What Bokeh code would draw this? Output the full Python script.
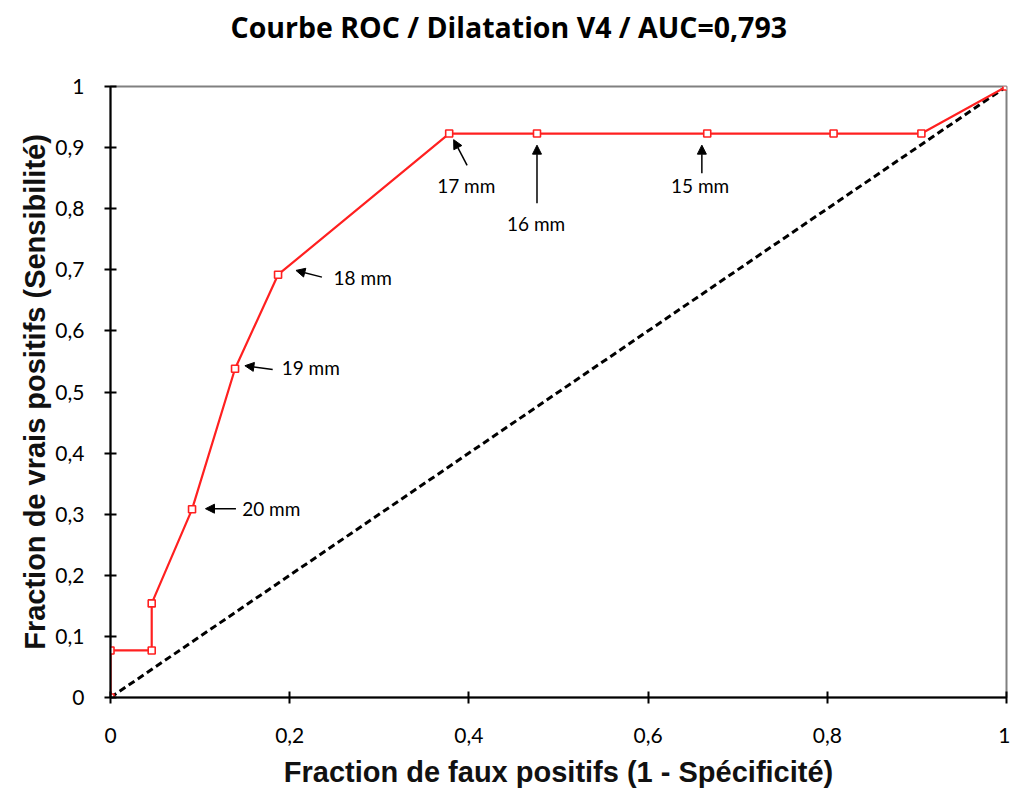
from bokeh.plotting import figure
from bokeh.models import Arrow, NormalHead, ColumnDataSource, FixedTicker, Title
from bokeh.core.properties import value
from bokeh.embed import file_html
from bokeh.resources import INLINE

# ROC curve points (1 - specificity, sensitivity)
fpr = [0.0, 0.0, 0.046, 0.046, 0.091, 0.139, 0.187, 0.378, 0.476, 0.666, 0.807, 0.905, 1.0]
tpr = [0.0, 0.077, 0.077, 0.154, 0.308, 0.538, 0.692, 0.923, 0.923, 0.923, 0.923, 0.923, 1.0]

# chance diagonal
diag_x = [0.0, 1.0]
diag_y = [0.0, 1.0]

# threshold annotations
lbl_left_text = ["18 mm", "19 mm", "20 mm"]
lbl_left_x = [0.249, 0.191, 0.147]
lbl_left_y = [0.688, 0.540, 0.309]
lbl_center_text = ["17 mm", "16 mm", "15 mm"]
lbl_center_x = [0.397, 0.475, 0.658]
lbl_center_y = [0.838, 0.776, 0.838]
arr_x0 = [0.236, 0.181, 0.140, 0.398, 0.476, 0.660]
arr_y0 = [0.688, 0.537, 0.309, 0.871, 0.809, 0.858]
arr_x1 = [0.207, 0.150, 0.106, 0.383, 0.476, 0.660]
arr_y1 = [0.699, 0.543, 0.309, 0.913, 0.904, 0.904]

x_ticks = [0, 0.2, 0.4, 0.6, 0.8, 1]
x_tick_labels = ["0", "0,2", "0,4", "0,6", "0,8", "1"]
y_ticks = [0, 0.1, 0.2, 0.3, 0.4, 0.5, 0.6, 0.7, 0.8, 0.9, 1]
y_tick_labels = ["0", "0,1", "0,2", "0,3", "0,4", "0,5", "0,6", "0,7", "0,8", "0,9", "1"]

title_text = "Courbe ROC / Dilatation V4 / AUC=0,793"

p = figure(width=1010, height=790, x_range=(0, 1), y_range=(0, 1),
           output_backend="svg", toolbar_location=None,
           min_border_left=110, min_border_right=4, min_border_top=86, min_border_bottom=92)
p.title.visible = False

# spacer (nearest the frame) then the real title above it
p.add_layout(Title(text=" ", text_font_size="1px", standoff=38), "above")
p.add_layout(Title(text=title_text, align="left", offset=120, standoff=0,
                   text_font="Open Sans", text_font_style="bold",
                   text_font_size="28.5px", text_color="black"), "above")

p.grid.visible = False
p.outline_line_color = "#808080"
p.outline_line_width = 2
p.background_fill_color = "white"
p.border_fill_color = "white"

for ax in (p.xaxis[0], p.yaxis[0]):
    ax.axis_line_color = "black"
    ax.axis_line_width = 2
    ax.major_tick_line_color = "black"
    ax.major_tick_line_width = 2
    ax.major_tick_in = 6
    ax.major_tick_out = 6
    ax.minor_tick_line_color = None
    ax.major_label_text_font = "Lato"
    ax.major_label_text_font_size = "21px"
    ax.major_label_text_color = "black"
    ax.axis_label_text_font = "Liberation Sans"
    ax.axis_label_text_font_style = "bold"
    ax.axis_label_text_font_size = "29px"
    ax.axis_label_text_color = "#111111"

p.xaxis.ticker = FixedTicker(ticks=x_ticks)
p.xaxis.major_label_overrides = {t: l for t, l in zip(x_ticks, x_tick_labels)}
p.yaxis.ticker = FixedTicker(ticks=y_ticks)
p.yaxis.major_label_overrides = {t: l for t, l in zip(y_ticks, y_tick_labels)}
p.xaxis.axis_label = "Fraction de faux positifs (1 - Spécificité)"
p.yaxis.axis_label = "Fraction de vrais positifs (Sensibilité)"
p.xaxis.major_label_standoff = 24
p.yaxis.major_label_standoff = 20
p.xaxis.axis_label_standoff = 10
p.yaxis.axis_label_standoff = 1

p.line(diag_x, diag_y, line_color="black", line_width=3, line_dash="7 4")
p.line(fpr, tpr, line_color="#ff2020", line_width=2.2)
p.scatter(fpr, tpr, marker="square", size=7, fill_color="white",
          line_color="#ff2020", line_width=1.6)

arrows = ColumnDataSource(dict(x0=arr_x0, y0=arr_y0, x1=arr_x1, y1=arr_y1))
p.add_layout(Arrow(source=arrows, x_start="x0", y_start="y0", x_end="x1", y_end="y1",
                   line_color="black", line_width=1.5,
                   end=NormalHead(size=9, fill_color="black", line_color="black")))

p.text(lbl_left_x, lbl_left_y, text=lbl_left_text, text_font=value("Lato"),
       text_font_size="19px", text_align="left", text_baseline="middle", text_color="black")
p.text(lbl_center_x, lbl_center_y, text=lbl_center_text, text_font=value("Lato"),
       text_font_size="19px", text_align="center", text_baseline="middle", text_color="black")

open("out.html", "w").write(file_html(p, INLINE))
